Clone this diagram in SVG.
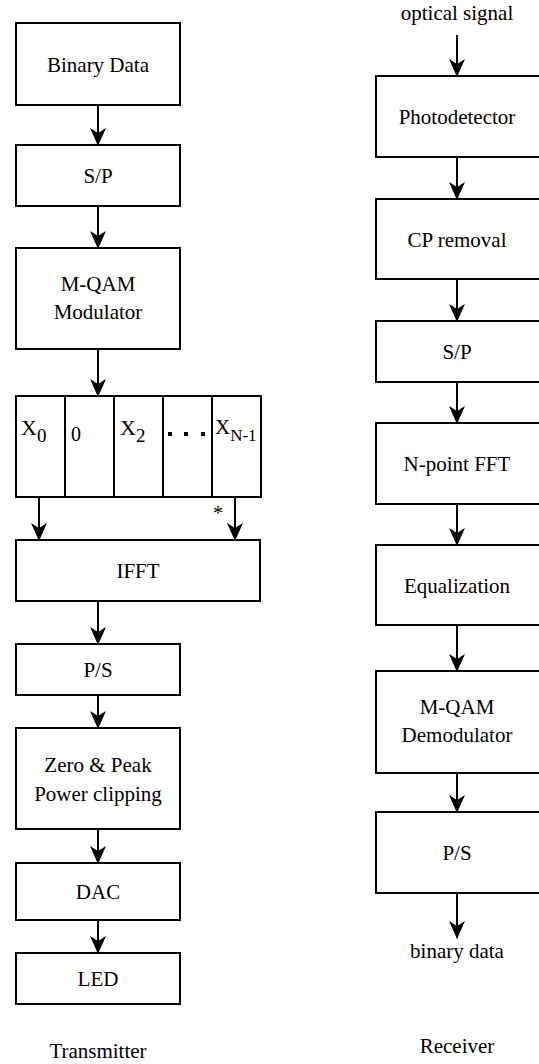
<svg xmlns="http://www.w3.org/2000/svg" width="539" height="1064" viewBox="0 0 539 1064">
<style>
.box{fill:#fff;stroke:#000;stroke-width:2}
.t{font-family:"Liberation Serif","Times New Roman",serif;font-size:21px;fill:#000;text-anchor:middle}
.ts{font-family:"Liberation Serif","Times New Roman",serif;font-size:22px;fill:#000}
.sub{font-size:19px}
.c{fill:none;stroke:#000;stroke-width:2;marker-end:url(#ah)}
</style>
<defs>
<marker id="ah" viewBox="0 0 18 16" refX="17" refY="8" markerWidth="18" markerHeight="16" markerUnits="userSpaceOnUse" orient="auto">
<path d="M0,0 L18,8 L0,16 L5,8 Z" fill="#000"/>
</marker>
</defs>
<rect width="539" height="1064" fill="#fff"/>
<g id="connectors">
<line class="c" x1="98" y1="105" x2="98" y2="145"/>
<line class="c" x1="98" y1="206" x2="98" y2="248"/>
<line class="c" x1="98" y1="349" x2="98" y2="396"/>
<line class="c" x1="39" y1="497" x2="39" y2="540"/>
<line class="c" x1="235" y1="497" x2="235" y2="540"/>
<line class="c" x1="98" y1="601" x2="98" y2="644"/>
<line class="c" x1="98" y1="695" x2="98" y2="728"/>
<line class="c" x1="98" y1="829" x2="98" y2="863"/>
<line class="c" x1="98" y1="920" x2="98" y2="953"/>
<line class="c" x1="457" y1="35" x2="457" y2="76"/>
<line class="c" x1="457" y1="157" x2="457" y2="199"/>
<line class="c" x1="457" y1="279" x2="457" y2="321"/>
<line class="c" x1="457" y1="382" x2="457" y2="423"/>
<line class="c" x1="457" y1="504" x2="457" y2="545"/>
<line class="c" x1="457" y1="625" x2="457" y2="671"/>
<line class="c" x1="457" y1="773" x2="457" y2="812"/>
<line class="c" x1="457" y1="893" x2="457" y2="938"/>
</g>
<g id="tx-binary"><rect class="box" x="16" y="23" width="164" height="82"/><text class="t" x="98" y="71.5">Binary Data</text></g>
<g id="tx-sp"><rect class="box" x="16" y="145" width="164" height="61"/><text class="t" x="98" y="183">S/P</text></g>
<g id="tx-mqam"><rect class="box" x="16" y="248" width="164" height="101"/><text class="t" x="98" y="291">M-QAM</text><text class="t" x="98" y="319">Modulator</text></g>
<g id="tx-array">
<rect class="box" x="16" y="396" width="245" height="101"/>
<line x1="65" y1="396" x2="65" y2="497" stroke="#000" stroke-width="2"/>
<line x1="114" y1="396" x2="114" y2="497" stroke="#000" stroke-width="2"/>
<line x1="163" y1="396" x2="163" y2="497" stroke="#000" stroke-width="2"/>
<line x1="212" y1="396" x2="212" y2="497" stroke="#000" stroke-width="2"/>
<text class="ts" x="21" y="435">X<tspan class="sub" dy="7">0</tspan></text>
<text class="ts" x="71" y="441" style="font-size:20px">0</text>
<text class="ts" x="120" y="435">X<tspan class="sub" dy="7">2</tspan></text>
<rect x="168" y="432" width="4" height="4" fill="#000"/>
<rect x="184" y="432" width="4" height="4" fill="#000"/>
<rect x="201" y="432" width="4" height="4" fill="#000"/>
<text class="ts" x="215" y="434" style="font-size:21px">X<tspan style="font-size:17px" dy="7">N-1</tspan></text>
<text class="ts" x="213" y="520" style="font-size:20px">*</text>
</g>
<g id="tx-ifft"><rect class="box" x="16" y="540" width="244" height="61"/><text class="t" x="138" y="578">IFFT</text></g>
<g id="tx-ps"><rect class="box" x="16" y="644" width="164" height="51"/><text class="t" x="98" y="677">P/S</text></g>
<g id="tx-clip"><rect class="box" x="16" y="728" width="164" height="101"/><text class="t" x="98" y="772">Zero &amp; Peak</text><text class="t" x="98" y="801">Power clipping</text></g>
<g id="tx-dac"><rect class="box" x="16" y="863" width="164" height="57"/><text class="t" x="98" y="899">DAC</text></g>
<g id="tx-led"><rect class="box" x="16" y="953" width="164" height="51"/><text class="t" x="98" y="986">LED</text></g>
<g id="tx-label"><text class="t" x="98" y="1058">Transmitter</text></g>
<g id="rx-input"><text class="t" x="457" y="20">optical signal</text></g>
<g id="rx-pd"><rect class="box" x="376" y="76" width="164" height="81"/><text class="t" x="457" y="124">Photodetector</text></g>
<g id="rx-cp"><rect class="box" x="376" y="199" width="164" height="80"/><text class="t" x="457" y="247">CP removal</text></g>
<g id="rx-sp"><rect class="box" x="376" y="321" width="164" height="61"/><text class="t" x="457" y="359">S/P</text></g>
<g id="rx-fft"><rect class="box" x="376" y="423" width="164" height="81"/><text class="t" x="457" y="471">N-point FFT</text></g>
<g id="rx-eq"><rect class="box" x="376" y="545" width="164" height="80"/><text class="t" x="457" y="593">Equalization</text></g>
<g id="rx-demod"><rect class="box" x="376" y="671" width="164" height="102"/><text class="t" x="457" y="714">M-QAM</text><text class="t" x="457" y="742">Demodulator</text></g>
<g id="rx-ps"><rect class="box" x="376" y="812" width="164" height="81"/><text class="t" x="457" y="860">P/S</text></g>
<g id="rx-output"><text class="t" x="457" y="958">binary data</text></g>
<g id="rx-label"><text class="t" x="457" y="1053">Receiver</text></g>
</svg>
